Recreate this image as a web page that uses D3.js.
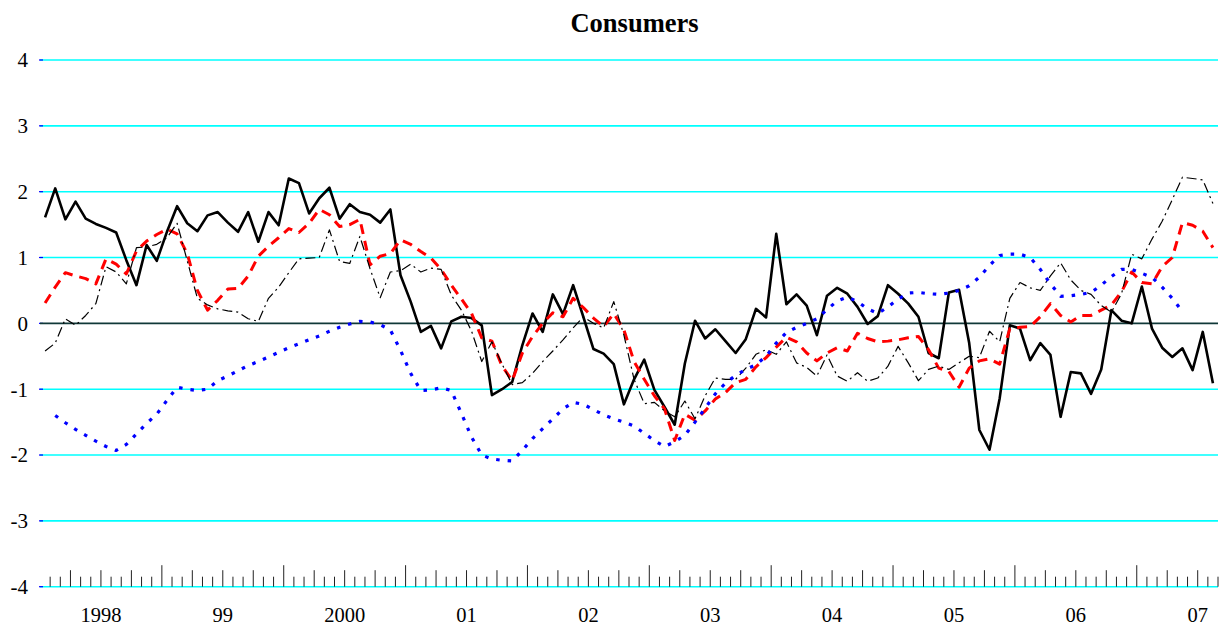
<!DOCTYPE html>
<html>
<head>
<meta charset="utf-8">
<script src="https://cdn.jsdelivr.net/npm/d3@7/dist/d3.min.js"></script>
<style>
  body { margin: 0; background: #fff; }
  svg { display: block; }
  text { font-family: "Liberation Serif", "Times New Roman", serif; fill: #000; }
</style>
</head>
<body>
<div id="chart"></div>
<script>
// chart text and categories
var title = "Consumers";
var yearLabels = ["1998", "99", "2000", "01", "02", "03", "04", "05", "06", "07"];
var monthCount = 116; // Jan 1998 .. Aug 2007
var yTicks = [4, 3, 2, 1, 0, -1, -2, -3, -4];

// monthly series, one value per month starting Jan 1998
var consumers = [
  1.61, 2.05, 1.58, 1.85, 1.59, 1.51, 1.45, 1.38, 0.96, 0.58, 1.19, 0.95,
  1.39, 1.78, 1.52, 1.40, 1.64, 1.69, 1.53, 1.39, 1.69, 1.24, 1.69, 1.49,
  2.20, 2.13, 1.67, 1.90, 2.06, 1.59, 1.81, 1.69, 1.65, 1.53, 1.73, 0.73,
  0.33, -0.13, -0.04, -0.38, 0.03, 0.10, 0.08, -0.03, -1.09, -1.00, -0.89, -0.33,
  0.15, -0.13, 0.44, 0.14, 0.58, 0.10, -0.39, -0.46, -0.62, -1.23, -0.85, -0.55,
  -1.01, -1.27, -1.54, -0.61, 0.04, -0.23, -0.09, -0.27, -0.45, -0.24, 0.22, 0.09,
  1.36, 0.29, 0.44, 0.27, -0.18, 0.42, 0.54, 0.45, 0.25, -0.01, 0.11, 0.58,
  0.45, 0.30, 0.10, -0.45, -0.53, 0.47, 0.51, -0.30, -1.62, -1.92, -1.14, -0.03,
  -0.08, -0.56, -0.30, -0.48, -1.42, -0.74, -0.76, -1.07, -0.70, 0.20, 0.04, 0.00,
  0.56, -0.08, -0.37, -0.51, -0.38, -0.71, -0.13, -0.91
];

var smoothed = [
  0.31, 0.55, 0.77, 0.72, 0.68, 0.60, 0.98, 0.90, 0.75, 1.10, 1.25, 1.35,
  1.43, 1.36, 1.06, 0.50, 0.20, 0.35, 0.52, 0.53, 0.72, 1.02, 1.17, 1.30,
  1.44, 1.38, 1.52, 1.73, 1.65, 1.47, 1.50, 1.58, 0.89, 1.02, 1.06, 1.27,
  1.20, 1.09, 0.99, 0.82, 0.58, 0.37, 0.15, -0.22, -0.27, -0.65, -0.87, -0.45,
  -0.20, 0.00, 0.16, 0.10, 0.38, 0.24, 0.08, -0.05, 0.15, -0.10, -0.58, -0.85,
  -1.10, -1.30, -1.78, -1.38, -1.47, -1.33, -1.15, -1.05, -0.90, -0.85, -0.66, -0.52,
  -0.36, -0.21, -0.28, -0.45, -0.57, -0.45, -0.37, -0.42, -0.15, -0.23, -0.28, -0.27,
  -0.25, -0.22, -0.20, -0.40, -0.68, -0.73, -0.97, -0.68, -0.57, -0.54, -0.62, -0.08,
  -0.06, -0.05, 0.10, 0.30, 0.12, 0.02, 0.12, 0.12, 0.20, 0.28, 0.48, 0.78,
  0.62, 0.60, 0.86, 1.00, 1.53, 1.49, 1.40, 1.15
];

var dashDot = [
  -0.42, -0.30, 0.07, -0.03, 0.12, 0.30, 0.86, 0.78, 0.60, 1.15, 1.16, 1.20,
  1.30, 1.52, 0.95, 0.38, 0.28, 0.22, 0.19, 0.17, 0.07, 0.03, 0.38, 0.55,
  0.77, 0.98, 0.99, 1.00, 1.42, 0.94, 0.91, 1.32, 0.83, 0.39, 0.78, 0.80,
  0.90, 0.78, 0.84, 0.82, 0.43, 0.20, -0.12, -0.58, -0.28, -0.62, -0.93, -0.90,
  -0.76, -0.58, -0.42, -0.25, -0.07, 0.10, 0.00, -0.07, 0.33, -0.18, -0.85, -1.22,
  -1.20, -1.33, -1.42, -1.18, -1.45, -1.10, -0.83, -0.85, -0.85, -0.68, -0.47, -0.40,
  -0.47, -0.28, -0.60, -0.67, -0.80, -0.48, -0.80, -0.88, -0.75, -0.88, -0.83, -0.65,
  -0.35, -0.60, -0.87, -0.70, -0.65, -0.70, -0.60, -0.50, -0.52, -0.12, -0.28, 0.38,
  0.62, 0.54, 0.50, 0.72, 0.92, 0.66, 0.50, 0.44, 0.27, 0.17, 0.45, 1.05,
  0.98, 1.28, 1.55, 1.88, 2.22, 2.20, 2.18, 1.82
];

var trend = [
  null, -1.40, -1.51, -1.61, -1.70, -1.79, -1.87, -1.93, -1.84, -1.68, -1.52, -1.38,
  -1.17, -0.97, -1.00, -1.02, -1.00, -0.87, -0.80, -0.72, -0.64, -0.58, -0.51, -0.44,
  -0.37, -0.31, -0.25, -0.19, -0.12, -0.06, -0.01, 0.03, 0.02, -0.02, -0.10, -0.41,
  -0.76, -1.02, -1.01, -0.98, -1.02, -1.37, -1.73, -2.00, -2.06, -2.08, -2.09, -1.93,
  -1.75, -1.60, -1.45, -1.30, -1.20, -1.23, -1.31, -1.39, -1.45, -1.50, -1.56, -1.67,
  -1.78, -1.87, -1.80, -1.70, -1.50, -1.29, -1.07, -0.91, -0.79, -0.70, -0.63, -0.50,
  -0.30, -0.14, -0.06, 0.00, 0.07, 0.21, 0.34, 0.40, 0.33, 0.22, 0.15, 0.25,
  0.37, 0.46, 0.47, 0.45, 0.44, 0.46, 0.50, 0.57, 0.70, 0.88, 1.03, 1.05,
  1.05, 1.00, 0.82, 0.60, 0.41, 0.42, 0.44, 0.47, 0.58, 0.71, 0.82, 0.82,
  0.76, 0.70, 0.55, 0.38, 0.18, null, null, null
];

var width = 1224, height = 627;
var plot = { left: 40, right: 1218, top: 60, bottom: 586.7 };

var svg = d3.select("#chart").append("svg")
  .attr("width", width)
  .attr("height", height);

var x = d3.scaleLinear().domain([0, monthCount]).range([plot.left, plot.right]);
var y = d3.scaleLinear().domain([-4, 4]).range([plot.bottom, plot.top]);

//////////////////// title ////////////////////
svg.append("text")
  .attr("x", 634.5)
  .attr("y", 31.5)
  .attr("text-anchor", "middle")
  .style("font-size", "26.5px")
  .style("font-weight", "bold")
  .text(title);

//////////////////// gridlines + y labels ////////////////////
svg.append("g")
  .selectAll("line")
  .data(yTicks.filter(function(d) { return d !== 0; }))
  .enter().append("line")
  .attr("x1", plot.left).attr("x2", plot.right)
  .attr("y1", function(d) { return y(d); })
  .attr("y2", function(d) { return y(d); })
  .attr("stroke", "#00ffff")
  .attr("stroke-width", 1.6);

// little blue ticks on the left end
svg.append("g")
  .selectAll("line")
  .data(yTicks)
  .enter().append("line")
  .attr("x1", plot.left - 1).attr("x2", plot.left + 3)
  .attr("y1", function(d) { return y(d); })
  .attr("y2", function(d) { return y(d); })
  .attr("stroke", "#0000ff")
  .attr("stroke-width", 1.2);

svg.append("g")
  .selectAll("text")
  .data(yTicks)
  .enter().append("text")
  .attr("x", 28)
  .attr("y", function(d) { return y(d); })
  .attr("dy", "0.35em")
  .attr("text-anchor", "end")
  .style("font-size", "21px")
  .text(function(d) { return d < 0 ? "-" + Math.abs(d) : d; });

//////////////////// month ticks on the bottom ////////////////////
svg.append("g")
  .selectAll("line")
  .data(d3.range(1, monthCount + 1))
  .enter().append("line")
  .attr("x1", function(d) { return x(d); })
  .attr("x2", function(d) { return x(d); })
  .attr("y1", plot.bottom)
  .attr("y2", function(d) {
    if (d % 12 === 0) { return plot.bottom - 21.5; }
    if (d % 3 === 0) { return plot.bottom - 16.5; }
    return plot.bottom - 10;
  })
  .attr("stroke", "#222")
  .attr("stroke-width", 1);

// year labels sit right on the bottom edge, keep the descent inside the page
svg.append("g")
  .selectAll("text")
  .data(yearLabels)
  .enter().append("text")
  .attr("x", function(d, i) { return x(i * 12 + 6); })
  .attr("y", 621.5)
  .attr("text-anchor", "middle")
  .style("font-size", "20.5px")
  .text(function(d) { return d; });

// zero line
svg.append("line")
  .attr("x1", plot.left).attr("x2", plot.right)
  .attr("y1", y(0)).attr("y2", y(0))
  .attr("stroke", "#103838")
  .attr("stroke-width", 1.6);

//////////////////// series ////////////////////
var line = d3.line()
  .defined(function(d) { return d !== null; })
  .x(function(d, i) { return x(i + 0.5); })
  .y(function(d) { return y(d); });

var series = [
  { values: consumers, color: "#000", width: 2.6, dash: null },
  { values: smoothed, color: "#ff0000", width: 3, dash: "10,7" },
  { values: dashDot, color: "#000", width: 1.2, dash: "10,4,2,4" },
  { values: trend, color: "#0000ff", width: 3.2, dash: "3.5,8" }
];

svg.append("g")
  .selectAll("path")
  .data(series)
  .enter().append("path")
  .attr("d", function(s) { return line(s.values); })
  .attr("fill", "none")
  .attr("stroke", function(s) { return s.color; })
  .attr("stroke-width", function(s) { return s.width; })
  .attr("stroke-dasharray", function(s) { return s.dash; })
  .attr("stroke-linejoin", "round");
</script>
</body>
</html>
